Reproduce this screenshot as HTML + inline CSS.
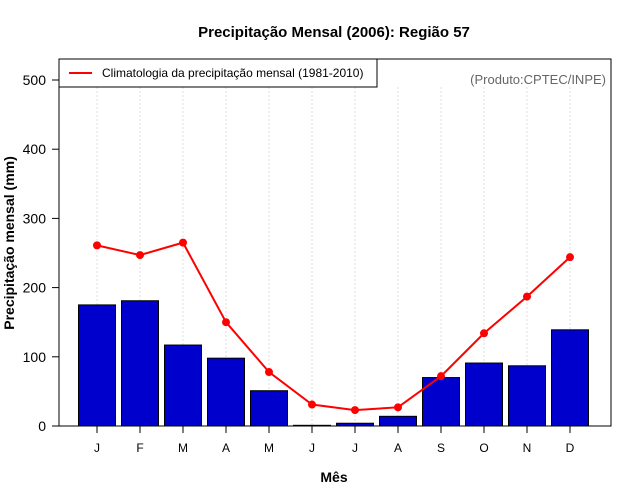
<!DOCTYPE html>
<html><head><meta charset="utf-8"><style>
body{margin:0;background:#fff;}
svg{display:block;font-family:"Liberation Sans",sans-serif;}
</style></head><body>
<svg id="chart" width="640" height="500">
<text x="334" y="37" text-anchor="middle" font-size="15" font-weight="bold">Precipitação Mensal (2006): Região 57</text>
<g id="grid"></g>
<g id="bars"></g>
<g id="line"></g>
<rect x="59" y="59" width="552" height="367" fill="none" stroke="#000" stroke-width="1"/>
<g id="yaxis" font-size="14"></g>
<g id="xaxis" font-size="12"></g>
<text x="334" y="482" text-anchor="middle" font-size="14" font-weight="bold">Mês</text>
<text transform="translate(14,243) rotate(-90)" text-anchor="middle" font-size="14" font-weight="bold">Precipitação mensal (mm)</text>
<g>
<rect x="59" y="59" width="318" height="28" fill="#fff" stroke="#000"/>
<line x1="69" y1="73" x2="92" y2="73" stroke="#f00" stroke-width="2"/>
<text x="102" y="77" font-size="12">Climatologia da precipitação mensal (1981-2010)</text>
</g>
<text x="606" y="84" text-anchor="end" font-size="13" fill="#666">(Produto:CPTEC/INPE)</text>
</svg>
<script>
const months=["J","F","M","A","M","J","J","A","S","O","N","D"];
const observed=[175,181,117,98,51,1,4,14,70,91,87,139];
const climatology=[261,247,265,150,78,31,23,27,72,134,187,244];
const yTicks=[0,100,200,300,400,500];
const NS="http://www.w3.org/2000/svg";
const xS=i=>97+i*43;
const yS=v=>426-v*0.692;
function mk(tag,attrs,parent){const e=document.createElementNS(NS,tag);for(const k in attrs)e.setAttribute(k,attrs[k]);document.getElementById(parent).appendChild(e);return e;}
months.forEach((m,i)=>{
  const g=mk('line',{x1:xS(i),x2:xS(i),y1:87,y2:426,stroke:'#ddd','stroke-dasharray':'2,2'},'grid');
  
  
  const b=mk('rect',{x:xS(i)-18.5,y:yS(observed[i]),width:37,height:observed[i]*0.692,fill:'#0000cc',stroke:'#000','stroke-width':1},'bars');
  
  
  const t=mk('line',{x1:xS(i),x2:xS(i),y1:426,y2:433,stroke:'#000'},'xaxis');
  
  
  const l=mk('text',{x:xS(i),y:452,'text-anchor':'middle'},'xaxis');
  l.textContent=m;
  
  
});
const p=mk('polyline',{points:climatology.map((v,i)=>xS(i)+','+yS(v)).join(' '),fill:'none',stroke:'#f00','stroke-width':2},'line');


climatology.forEach((v,i)=>{
  const c=mk('circle',{cx:xS(i),cy:yS(v),r:4,fill:'#f00'},'line');
  
  
});
yTicks.forEach(v=>{
  const t=mk('line',{x1:52,x2:59,y1:yS(v),y2:yS(v),stroke:'#000'},'yaxis');
  
  
  const l=mk('text',{x:46,y:yS(v)+5,'text-anchor':'end'},'yaxis');
  l.textContent=v;
  
  
});
</script>
</body></html>
